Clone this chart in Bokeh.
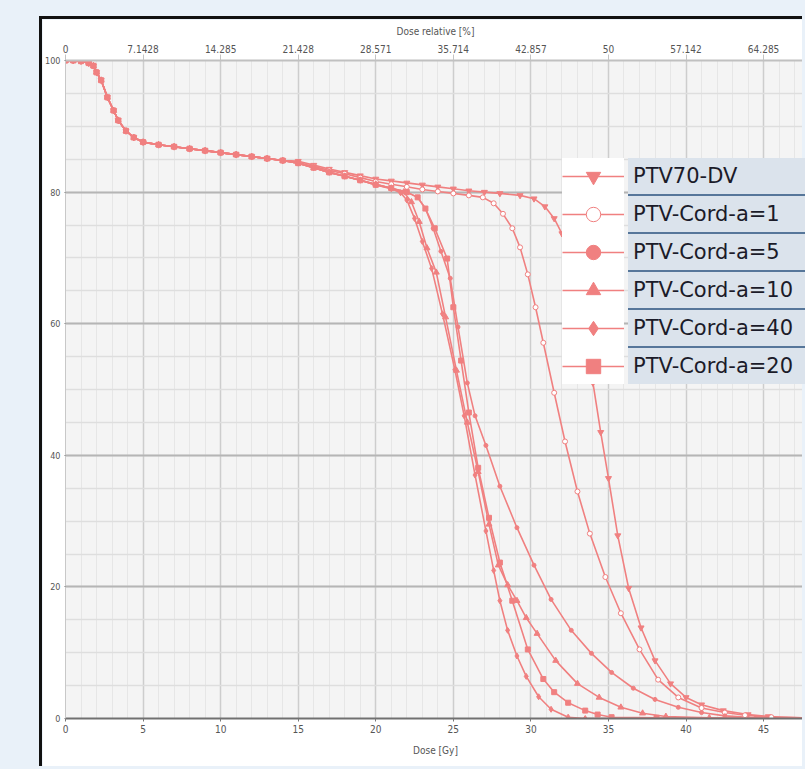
from bokeh.plotting import figure
from bokeh.models import (Range1d, LinearAxis, SingleIntervalTicker, FixedTicker,
                          Legend, LegendItem)
from bokeh.embed import file_html
from bokeh.resources import INLINE

# ---------------- data ----------------
PRESCRIPTION_GY = 70
X_END = 47.7

series_names = ["PTV70-DV", "PTV-Cord-a=1", "PTV-Cord-a=5",
                "PTV-Cord-a=10", "PTV-Cord-a=40", "PTV-Cord-a=20"]

# shared low-dose part of all DVH curves
base_dose = [0, 0.5, 1.0, 1.5, 1.8, 2.0, 2.3, 2.7, 3.1, 3.4, 3.9, 4.4, 5.0,
             6.0, 7.0, 8.0, 9.0, 10.0, 11.0, 12.0, 13.0, 14.0]
base_vol = [100, 100, 99.9, 99.6, 99.2, 98.2, 97.0, 94.4, 92.4, 90.9, 89.3, 88.3, 87.6,
            87.2, 86.9, 86.6, 86.3, 86.0, 85.7, 85.4, 85.1, 84.8]

ptv70_dose = [15, 16, 17, 18, 19, 20, 21, 22, 23, 24, 25, 26, 27, 28, 29.3, 30.2, 30.9,
              31.5, 32.0, 32.5, 33.0, 33.5, 34.0, 34.5, 35.0, 35.6, 36.3, 37.1, 38.0,
              39.0, 40.0, 41.0, 42.4, 44.0, 45.3, 47.7]
ptv70_vol = [84.7, 84.1, 83.5, 83.0, 82.5, 82.0, 81.7, 81.4, 81.1, 80.8, 80.5, 80.2, 80.0,
             79.8, 79.5, 79.0, 77.8, 76.0, 73.7, 69.0, 63.5, 57.5, 51.0, 43.5, 36.5, 27.8,
             19.8, 13.8, 8.8, 5.3, 3.2, 2.1, 1.2, 0.6, 0.3, 0.1]

a1_dose = [15, 16, 17, 18, 19, 20, 21, 22, 23, 24, 25, 26, 26.9, 27.6, 28.2, 28.8, 29.3,
           29.8, 30.3, 30.8, 31.5, 32.2, 33.0, 33.8, 34.8, 35.8, 37.0, 38.2, 39.5, 41.0,
           42.5, 43.8, 45.5, 47.7]
a1_vol = [84.5, 83.9, 83.3, 82.8, 82.2, 81.6, 81.2, 80.8, 80.4, 80.1, 79.8, 79.5, 79.2,
          78.3, 76.7, 74.5, 71.6, 67.5, 62.5, 57.1, 49.5, 42.1, 34.5, 28.1, 21.5, 16.0,
          10.5, 5.9, 3.2, 1.6, 0.9, 0.5, 0.2, 0.1]

a5_dose = [15, 16, 17, 18, 19, 20, 21, 22, 22.7, 23.2, 23.7, 24.2, 24.8, 25.3, 25.9, 26.4,
           27.1, 28.0, 29.1, 30.2, 31.3, 32.6, 33.9, 35.2, 36.6, 38.0, 39.5, 41.0, 42.5,
           44.5, 47.7]
a5_vol = [84.4, 83.7, 83.0, 82.4, 81.8, 81.2, 80.6, 80.0, 79.2, 77.5, 74.5, 71.0, 66.9,
          59.5, 51.0, 46.0, 41.5, 35.3, 29.0, 23.3, 18.1, 13.4, 9.9, 7.0, 4.6, 2.9, 1.7,
          0.9, 0.4, 0.1, 0.0]

a10_dose = [15, 16, 17, 18, 19, 20, 21, 21.8, 22.3, 22.8, 23.3, 23.9, 24.5, 25.2, 25.9,
            26.6, 27.3, 27.9, 28.5, 29.1, 29.7, 30.4, 31.6, 33.0, 34.4, 35.8, 37.2, 38.7,
            41.5, 47.7]
a10_vol = [84.4, 83.7, 83.0, 82.4, 81.8, 81.2, 80.6, 80.0, 78.5, 75.5, 71.5, 67.8, 61.0,
           52.9, 45.0, 37.5, 29.5, 23.3, 20.3, 17.9, 15.3, 12.9, 8.8, 5.3, 3.2, 1.7, 0.8,
           0.3, 0.1, 0.0]

a40_dose = [15, 16, 17, 18, 19, 20, 21, 21.6, 22.0, 22.5, 23.0, 23.6, 24.3, 25.1, 25.7,
            26.4, 27.1, 27.6, 28.0, 28.5, 29.1, 29.7, 30.5, 31.3, 32.4, 33.5, 47.7]
a40_vol = [84.4, 83.7, 83.0, 82.4, 81.8, 81.1, 80.5, 79.9, 78.8, 76.0, 72.5, 68.4, 61.5,
           53.0, 46.0, 37.0, 28.5, 22.5, 17.9, 13.4, 9.5, 6.4, 3.3, 1.4, 0.2, 0.0, 0.0]

a20_dose = [15, 16, 17, 18, 19, 20, 21, 22, 22.7, 23.2, 23.8, 24.6, 25.0, 25.5, 26.0, 26.6,
            27.3, 28.0, 28.8, 29.8, 30.8, 31.5, 32.4, 33.5, 34.3, 35.2, 38.1, 47.7]
a20_vol = [84.4, 83.7, 83.0, 82.4, 81.8, 81.1, 80.6, 80.0, 79.2, 77.5, 74.5, 69.9, 62.5,
           54.4, 46.5, 38.1, 30.5, 23.7, 17.9, 10.5, 6.0, 4.0, 2.4, 1.2, 0.6, 0.2, 0.1, 0.0]

series_dose = [ptv70_dose, a1_dose, a5_dose, a10_dose, a40_dose, a20_dose]
series_vol = [ptv70_vol, a1_vol, a5_vol, a10_vol, a40_vol, a20_vol]

bottom_tick_interval = 5
left_tick_interval = 20
rel_ticks = [0, 7.1428, 14.285, 21.428, 28.571, 35.714, 42.857, 50, 57.142, 64.285]
rel_labels = ["0", "7.1428", "14.285", "21.428", "28.571", "35.714", "42.857", "50",
              "57.142", "64.285"]

# ---------------- styling ----------------
CURVE = "#f08080"
markers = ["inverted_triangle", "circle", "circle", "triangle", "diamond", "square"]
marker_sizes = [6, 5, 4, 6, 6, 5]
marker_fills = [CURVE, "white", CURVE, CURVE, CURVE, CURVE]
TICK_FONT = "'Liberation Sans Narrow', 'DejaVu Sans Condensed', 'Liberation Sans', sans-serif"
TICK_SIZE = "10px"

p = figure(width=763, height=750, output_backend="svg", toolbar_location=None,
           x_range=Range1d(0, X_END), y_range=Range1d(0, 100),
           min_border_left=21, min_border_top=41, min_border_bottom=51, min_border_right=0,
           background_fill_color="#f4f4f4", border_fill_color="white",
           outline_line_color=None)
p.styles = {"margin-left": "39px", "margin-top": "16px",
            "border-left": "3px solid #111111", "border-top": "3px solid #111111"}

xa = p.below[0]
xa.ticker = SingleIntervalTicker(interval=bottom_tick_interval, num_minor_ticks=5)
xa.axis_label = "Dose [Gy]"
ya = p.left[0]
ya.ticker = SingleIntervalTicker(interval=left_tick_interval, num_minor_ticks=4)

for ax in (xa, ya):
    ax.major_label_text_font = TICK_FONT
    ax.major_label_text_font_size = TICK_SIZE
    ax.major_label_text_color = "#555555"
    ax.major_tick_in = 0
    ax.major_tick_out = 3
    ax.major_tick_line_color = "#777777"
    ax.minor_tick_line_color = None
    ax.major_label_standoff = 2
    ax.axis_label_text_font = TICK_FONT
    ax.axis_label_text_font_size = TICK_SIZE
    ax.axis_label_text_font_style = "normal"
    ax.axis_label_text_color = "#555555"
xa.axis_label_standoff = 9
xa.axis_line_color = "#707070"
xa.axis_line_width = 2
ya.axis_line_color = "#c8c8c8"
ya.major_label_text_font_size = "9px"
ya.major_label_standoff = 1
ya.major_tick_out = 1

p.extra_x_ranges = {"rel": Range1d(0, X_END * 100 / PRESCRIPTION_GY)}
top = LinearAxis(x_range_name="rel", ticker=FixedTicker(ticks=rel_ticks),
                 major_label_overrides=dict(zip(rel_ticks, rel_labels)),
                 axis_label="Dose relative [%]")
top.major_label_text_font = TICK_FONT
top.major_label_text_font_size = TICK_SIZE
top.major_label_text_color = "#555555"
top.major_tick_in = 0
top.major_tick_out = 6
top.major_tick_line_color = "#c4c4c4"
top.minor_tick_line_color = None
top.major_label_standoff = 2
top.axis_line_color = "#c0c0c0"
top.axis_line_width = 2
top.axis_label_text_font = TICK_FONT
top.axis_label_text_font_size = TICK_SIZE
top.axis_label_text_font_style = "normal"
top.axis_label_text_color = "#555555"
top.axis_label_standoff = 5
p.add_layout(top, "above")

p.xgrid.grid_line_color = "#cdcdcd"
p.xgrid.grid_line_width = 1.5
p.xgrid.minor_grid_line_color = "#e6e6e6"
p.xgrid.minor_grid_line_width = 1
p.ygrid.grid_line_color = "#b5b5b5"
p.ygrid.grid_line_width = 2
p.ygrid.minor_grid_line_color = "#dedede"
p.ygrid.minor_grid_line_width = 1.5

line_rs, mark_rs = [], []
for d, v in zip(series_dose, series_vol):
    x = base_dose + d
    y = base_vol + v
    line_rs.append(p.line(x, y, line_color=CURVE, line_width=1.6))
for d, v, m, s, f in zip(series_dose, series_vol, markers, marker_sizes, marker_fills):
    x = base_dose + d
    y = base_vol + v
    mark_rs.append(p.scatter(x, y, marker=m, size=s, fill_color=f,
                             line_color=CURVE, line_width=1))

# legend: glyph column (white) + label column (blue-grey rows)
items1 = [LegendItem(label=" ", renderers=[l, m]) for l, m in zip(line_rs, mark_rs)]
leg1 = Legend(items=items1, location=(497, 334), padding=0, margin=0, spacing=2,
              glyph_width=62, glyph_height=36, label_height=36, label_width=0,
              label_standoff=0, label_text_font_size="1px",
              background_fill_color="white", background_fill_alpha=1.0,
              border_line_color=None)
dummy = p.scatter([], [], alpha=0)
items2 = [LegendItem(label=n, renderers=[dummy]) for n in series_names]
leg2 = Legend(items=items2, location=(563, 334), padding=0, margin=0, spacing=2,
              glyph_width=1, glyph_height=36, label_height=36, label_width=180,
              label_standoff=4, label_text_font="DejaVu Sans",
              label_text_font_size="21px", label_text_color="#1b1b29",
              background_fill_color="#56769a", background_fill_alpha=1.0,
              border_line_color=None, item_background_policy="every",
              item_background_fill_color="#dbe3ec", item_background_fill_alpha=1.0)
p.add_layout(leg1)
p.add_layout(leg2)

html = file_html(p, INLINE)
html = html.replace("</head>",
                    "<style>html, body { background-color: #e9f1f9 !important; }</style></head>", 1)
open("out.html", "w").write(html)
